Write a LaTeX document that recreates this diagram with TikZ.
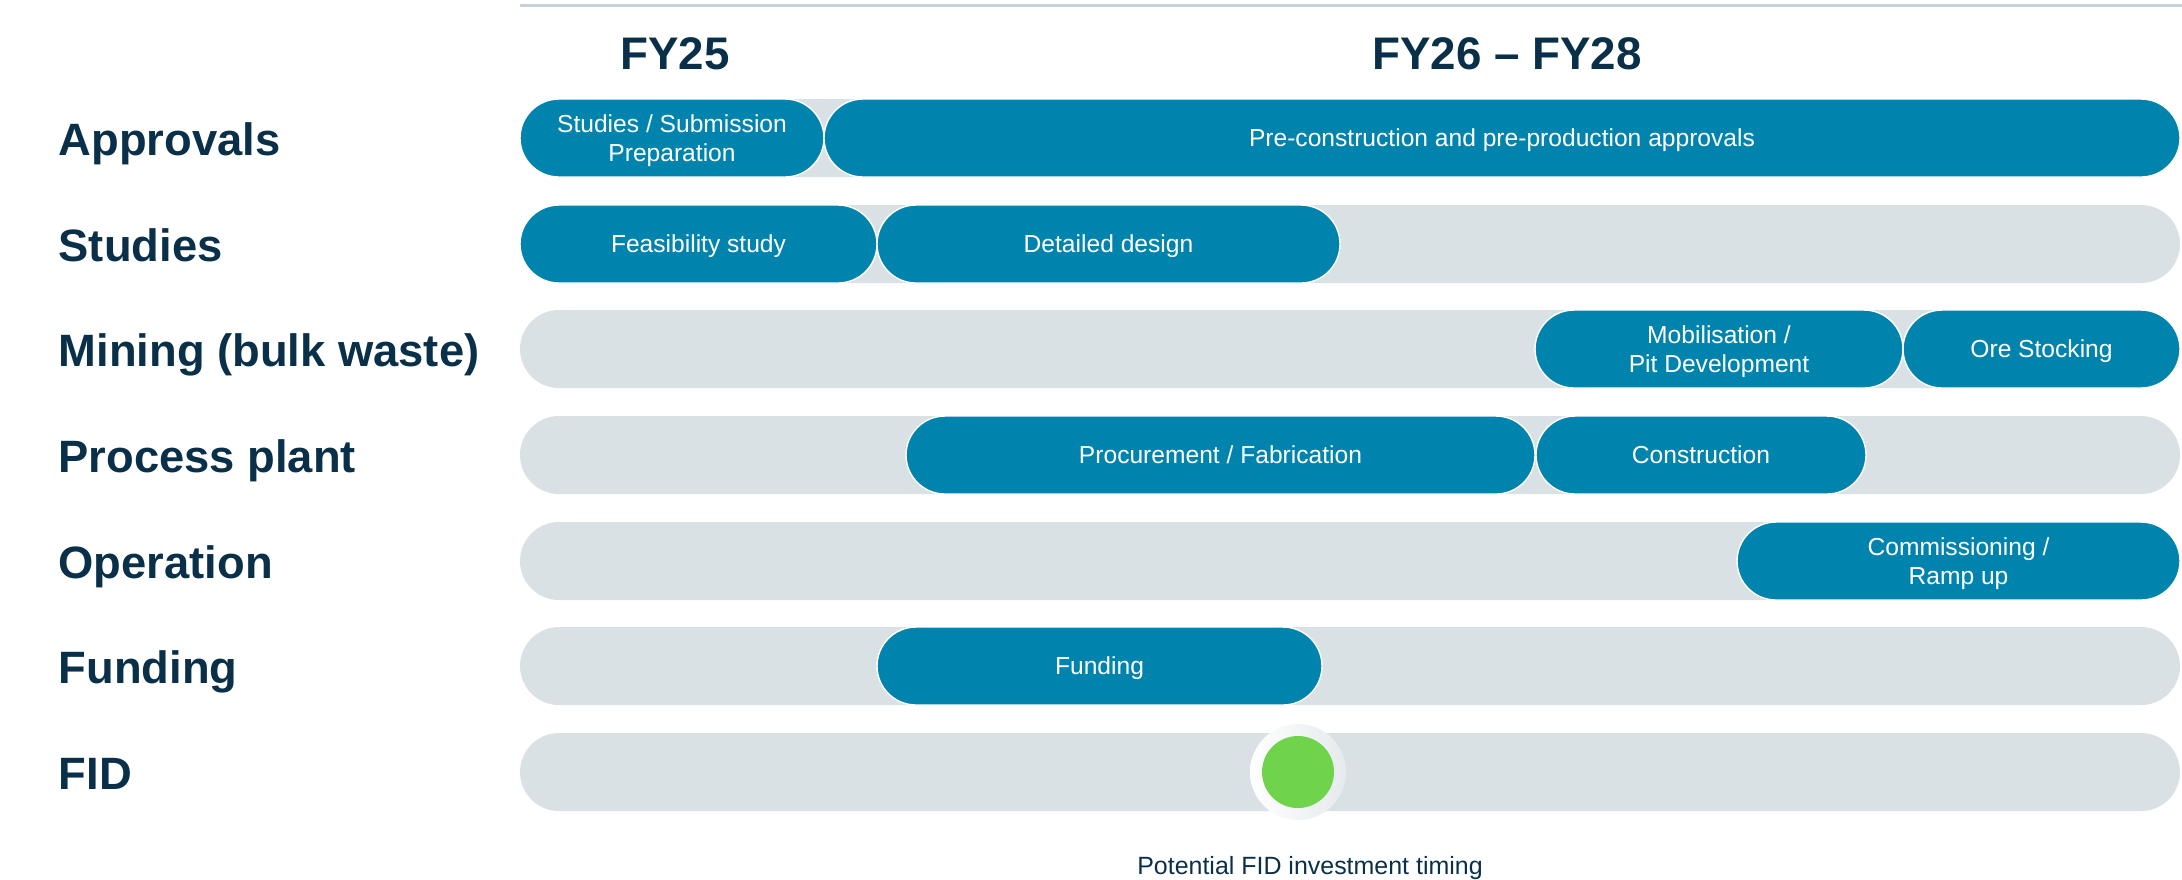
\documentclass[tikz,border=0pt]{standalone}
\usepackage{fontspec}
\setmainfont{Liberation Sans}
\usepackage{tikz}
\usetikzlibrary{positioning}

\definecolor{navy}{HTML}{0A3049}
\definecolor{phaseblue}{HTML}{0084AD}
\definecolor{lanegrey}{HTML}{DAE1E5}
\definecolor{rulegrey}{HTML}{C7D0D7}
\definecolor{fidgreen}{HTML}{6FD34B}

\begin{document}
\begin{tikzpicture}[lane/.style={fill=lanegrey, rounded corners=0.39cm, minimum width=16.60cm, minimum height=0.78cm, inner sep=0pt}, phase/.style={fill=phaseblue, draw=white, line width=0.4pt, rounded corners=0.39cm, minimum height=0.78cm, inner sep=0pt, text depth=0pt, text=white, align=center, font=\fontsize{7}{8.3}\selectfont}, lbl/.style={anchor=base west, inner sep=0pt, text=navy, font=\fontsize{12.9}{15}\selectfont\bfseries}, hdr/.style={anchor=base, inner sep=0pt, text=navy, font=\fontsize{13}{15}\selectfont\bfseries}]
        \useasboundingbox (0,0) rectangle (21.82,-8.79);

        % header
        \draw[rulegrey, line width=0.85pt] (5.20,-0.05) -- (21.82,-0.05);
        \node[hdr] (fy25) at (6.75,-0.69) {FY25};
        \node[hdr] (fy28) at (15.07,-0.69) {FY26 -- FY28};

        % row labels
        \node[lbl] (lapp) at (0.58,-1.55) {Approvals};
        \node[lbl] (lstu) at (0.58,-2.61) {Studies};
        \node[lbl] (lmin) at (0.58,-3.66) {Mining (bulk waste)};
        \node[lbl] (lpro) at (0.58,-4.72) {Process plant};
        \node[lbl] (lope) at (0.58,-5.78) {Operation};
        \node[lbl] (lfun) at (0.58,-6.83) {Funding};
        \node[lbl] (lfid) at (0.58,-7.89) {FID};

        % grey lanes
        \node[lane] (trk1) at (13.50,-1.38) {};
        \node[lane] (trk2) at (13.50,-2.44) {};
        \node[lane] (trk3) at (13.50,-3.49) {};
        \node[lane] (trk4) at (13.50,-4.55) {};
        \node[lane] (trk5) at (13.50,-5.61) {};
        \node[lane] (trk6) at (13.50,-6.66) {};
        \node[lane] (trk7) at (13.50,-7.72) {};

        % phases
        \node[phase, minimum width=3.04cm] (subprep) [right = 0cm of trk1.west] {Studies / Submission\\Preparation};
        \node[phase, minimum width=13.56cm] (preprod) [right = 3.04cm of trk1.west] {Pre-construction and pre-production approvals};

        \node[phase, minimum width=3.57cm] (feas) [right = 0cm of trk2.west] {Feasibility study};
        \node[phase, minimum width=4.63cm] (design) [right = 3.57cm of trk2.west] {Detailed design};

        \node[phase, minimum width=3.68cm] (mobil) [right = 10.15cm of trk3.west] {Mobilisation /\\Pit Development};
        \node[phase, minimum width=2.77cm] (orestock) [right = 13.83cm of trk3.west] {Ore Stocking};

        \node[phase, minimum width=6.29cm] (procure) [right = 3.86cm of trk4.west] {Procurement / Fabrication};
        \node[phase, minimum width=3.30cm] (constr) [right = 10.16cm of trk4.west] {Construction};

        \node[phase, minimum width=4.43cm] (commis) [right = 12.17cm of trk5.west] {Commissioning /\\Ramp up};

        \node[phase, minimum width=4.45cm] (fund) [right = 3.57cm of trk6.west] {Funding};

        % FID marker
        \node[circle, minimum size=0.96cm, inner sep=0pt, left color=white, right color=lanegrey!70] (ring) at (12.98,-7.72) {};
        \node[circle, minimum size=0.72cm, inner sep=0pt, fill=fidgreen] (fid) at (ring.center) {};
        \node[inner sep=0pt, text=navy, font=\fontsize{7.1}{8.5}\selectfont] (fidnote) [below = 0.35cm of ring, xshift=0.12cm] {Potential FID investment timing};
    \end{tikzpicture}
\end{document}
